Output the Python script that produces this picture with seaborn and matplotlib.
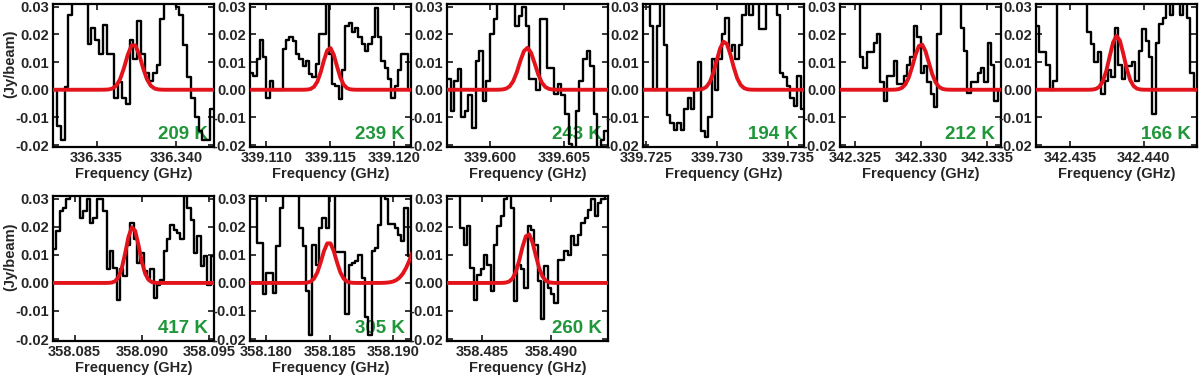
import numpy as np
import pandas as pd
import matplotlib
matplotlib.use("Agg")
import matplotlib.pyplot as plt
import seaborn as sns

# 0.04 marks channels that run off the top of the panel.
spec_209 = [0.000, -0.013, -0.018, 0.001, 0.027, 0.04, 0.04, 0.04, 0.04, 0.0167, 0.0225, 0.018,
            0.013, 0.0235, 0.013, 0.013, -0.003, 0.0027, -0.003, -0.005, 0.018, 0.011, 0.025, 0.013,
            0.006, 0.003, 0.006, 0.009, 0.0255, 0.04, 0.04, 0.04, 0.030, 0.027, 0.016, 0.0045,
            -0.003, -0.010, -0.015, -0.018, -0.018, -0.007]
spec_239 = [0.006, 0.005, 0.011, 0.018, 0.012, -0.003, 0.003, 0.000, 0.000, 0.000, 0.0147, 0.018,
            0.019, 0.0177, 0.013, 0.011, 0.0087, 0.0105, 0.0057, 0.0045, 0.0093, 0.020, 0.020, 0.04,
            0.013, 0.002, 0.0015, -0.0035, 0.007, 0.023, 0.024, 0.021, 0.0225, 0.019, 0.0165, 0.014,
            0.0165, 0.019, 0.0297, 0.019, 0.0105, 0.008, 0.004, -0.003, 0.0015, 0.007, 0.013, 0.013,
            0.000]
spec_243 = [0.004, -0.0076, 0.003, 0.0075, -0.010, -0.0076, -0.002, -0.014, 0.0105, 0.014, -0.004,
            0.003, 0.020, 0.0255, 0.04, 0.04, 0.04, 0.04, 0.04, 0.023, 0.0267, 0.030, 0.023, 0.004,
            0.004, 0.000, 0.0255, 0.0255, 0.008, 0.008, -0.0015, 0.002, -0.002, -0.0088, -0.0196,
            -0.03, -0.0076, 0.003, 0.011, 0.014, 0.0087, -0.0088, -0.03, -0.018, -0.015]
spec_194 = [0.04, 0.04, 0.023, 0.000, 0.023, 0.04, 0.016, -0.009, -0.012, -0.0145, -0.012, -0.0145,
            -0.007, -0.003, -0.007, 0.000, 0.010, -0.015, -0.017, -0.010, 0.011, 0.000, 0.011, 0.020,
            0.026, 0.014, 0.016, 0.011, 0.016, 0.027, 0.04, 0.027, 0.04, 0.04, 0.022, 0.022, 0.04,
            0.04, 0.04, 0.027, 0.006, 0.0045, 0.0015, -0.003, -0.006, 0.005, -0.007]
spec_212 = [0.04, 0.04, 0.04, 0.04, 0.04, 0.04, 0.0117, 0.008, 0.0135, 0.0135, 0.017, 0.020, 0.0027,
            -0.004, 0.005, 0.005, 0.0105, 0.002, 0.002, 0.005, 0.009, 0.012, 0.023, 0.019, 0.006,
            0.0087, 0.0027, -0.0015, -0.0064, 0.020, 0.04, 0.04, 0.04, 0.04, 0.04, 0.04, 0.0225,
            0.014, -0.001, 0.0027, 0.0027, 0.006, 0.008, 0.0027, 0.017, 0.009, -0.004, 0.000]
spec_166 = [0.023, 0.0135, 0.0135, 0.009, 0.000, 0.003, 0.04, 0.04, 0.04, 0.04, 0.04, 0.04, 0.04,
            0.04, 0.04, 0.0207, 0.0165, 0.010, 0.0135, -0.0015, 0.003, 0.007, 0.0045, 0.0225, 0.009,
            0.004, 0.0087, 0.0087, 0.010, 0.003, 0.014, 0.022, 0.0177, 0.0117, -0.0088, 0.017, 0.0237,
            0.026, 0.04, 0.027, 0.04, 0.04, 0.027, 0.04, 0.026, 0.006, 0.000]
spec_417 = [0.012, 0.0185, 0.0255, 0.0267, 0.03, 0.04, 0.04, 0.04, 0.0232, 0.0255, 0.03, 0.0214,
            0.0232, 0.0298, 0.03, 0.0255, 0.0048, 0.0113, 0.0054, -0.006, 0.0048, 0.0024, 0.0137,
            0.0214, 0.0155, 0.0071, 0.0107, 0.0042, 0.0018, 0.0048, -0.0054, -0.0006, 0.001, 0.0113,
            0.0155, 0.0208, 0.019, 0.0179, 0.0155, 0.04, 0.0267, 0.0226, 0.0107, 0.0167, 0.006,
            0.0095, -0.0006, 0.0095]
spec_305 = [0.04, 0.04, 0.0143, 0.0143, -0.004, 0.0036, 0.0036, -0.0036, 0.013, 0.0267, 0.04, 0.04,
            0.04, 0.04, 0.04, 0.0196, 0.013, -0.003, -0.0185, 0.0137, 0.0065, 0.0196, 0.0232, 0.0196,
            0.04, 0.04, 0.011, 0.011, 0.011, -0.011, 0.0065, 0.0071, 0.0077, 0.010, 0.0018, -0.012,
            -0.0185, 0.0113, 0.0125, 0.0208, 0.04, 0.03, 0.021, 0.021, 0.0196, 0.017, 0.015, 0.0267,
            0.0095]
spec_260 = [0.04, 0.04, 0.04, 0.04, 0.0196, 0.0137, 0.0202, 0.0054, -0.006, 0.003, 0.0048, 0.010,
            0.0065, -0.003, 0.0137, 0.0202, 0.0238, 0.030, 0.04, 0.0267, -0.0066, 0.0065, 0.0048,
            -0.0018, 0.0202, 0.019, 0.0137, 0.0006, -0.013, 0.006, -0.0018, -0.004, -0.007, 0.0083,
            0.0083, 0.0113, 0.010, 0.0167, 0.0137, 0.017, 0.0214, 0.0232, 0.026, 0.030, 0.0238,
            0.0285, 0.030, 0.04]

spectra = [spec_209, spec_239, spec_243, spec_194, spec_212, spec_166, spec_417, spec_305, spec_260]

# frequency range shown in each panel (GHz)
freq_lo = [336.33226, 339.10873, 339.59705, 339.72481, 342.32388, 342.43268, 358.08340, 358.17870, 358.48244]
freq_hi = [336.34238, 339.12132, 339.60800, 339.73609, 342.33603, 342.44364, 358.09537, 358.19140, 358.49415]

# Gaussian model lines: centre (GHz), peak (Jy/beam), FWHM (GHz)
line_freq = [[336.33732], [339.11496], [339.60250], [339.73051], [342.33000], [342.43818],
             [358.08932], [358.18492, 358.19256], [358.48834]]
line_peak = [[0.0165], [0.0152], [0.0152], [0.0175], [0.0165], [0.0195], [0.020], [0.0145, 0.020], [0.0175]]
line_fwhm = [[0.00116], [0.00125], [0.00125], [0.00125], [0.00135], [0.00116], [0.00116], [0.0013, 0.00224], [0.00122]]

temps = ['209 K', '239 K', '243 K', '194 K', '212 K', '166 K', '417 K', '305 K', '260 K']

sns.set_style('ticks')
plt.rcParams['font.family'] = ['Liberation Sans', 'DejaVu Sans']
plt.rcParams['font.weight'] = 'bold'
plt.rcParams['axes.unicode_minus'] = False

fig = plt.figure(figsize=(12, 3.75), dpi=100)
W, H = 1200.0, 375.0
lefts = [53, 250, 447, 643, 840, 1036, 53, 250, 447]
tops = [4, 4, 4, 4, 4, 4, 196, 196, 196]
heights = [143, 143, 143, 143, 143, 143, 145, 145, 145]
pw = 161

red = '#e3131c'
green = '#1e9639'

for i in range(9):
    ax = fig.add_axes([lefts[i] / W, 1 - (tops[i] + heights[i]) / H, pw / W, heights[i] / H])
    vals = np.array(spectra[i])
    n = len(vals)
    lo, hi = freq_lo[i], freq_hi[i]
    edges = np.linspace(lo, hi, n + 1)
    df = pd.DataFrame({'freq': edges, 'flux': np.append(vals, vals[-1])})
    sns.lineplot(data=df, x='freq', y='flux', drawstyle='steps-post', color='black',
                 lw=1.7, ax=ax, sort=False, estimator=None, zorder=3)

    # model sampled on the channel grid
    w = (hi - lo) / n
    centers = lo + (np.arange(-1, n + 1) + 0.5) * w
    model = np.zeros_like(centers)
    for c, a, fw in zip(line_freq[i], line_peak[i], line_fwhm[i]):
        model += a * np.exp(-4 * np.log(2) * (centers - c) ** 2 / fw ** 2)
    sns.lineplot(x=centers, y=model, color=red, lw=2.8, ax=ax, sort=False, estimator=None, zorder=4)

    ax.set_xlim(lo, hi)
    ax.set_ylim(-0.0207, 0.031)
    xt = np.arange(np.ceil(lo / 0.005) * 0.005, hi, 0.005)
    ax.set_xticks(xt)
    ax.set_xticklabels(['%.3f' % t for t in xt])
    yt = [-0.02, -0.01, 0.0, 0.01, 0.02, 0.03]
    ax.set_yticks(yt)
    ax.set_yticklabels(['%.2f' % t for t in yt])
    ax.tick_params(direction='in', top=True, right=True, length=4, width=1.3,
                   labelsize=10.5, pad=3)
    for lab in ax.get_xticklabels() + ax.get_yticklabels():
        lab.set_fontweight('bold')
    for sp in ax.spines.values():
        sp.set_linewidth(1.6)
        sp.set_color('black')
    ax.set_xlabel('Frequency (GHz)', fontsize=10.5, fontweight='bold', labelpad=1)
    if i in (0, 6):
        ax.set_ylabel('(Jy/beam)', fontsize=10.5, fontweight='bold')
        ax.yaxis.set_label_coords(-0.225, 0.58)
    else:
        ax.set_ylabel('')
    ax.text(0.965, 0.03, temps[i], transform=ax.transAxes, ha='right', va='bottom',
            color=green, fontsize=13.5, fontweight='bold', zorder=1)

fig.savefig('out.png', dpi=100)
